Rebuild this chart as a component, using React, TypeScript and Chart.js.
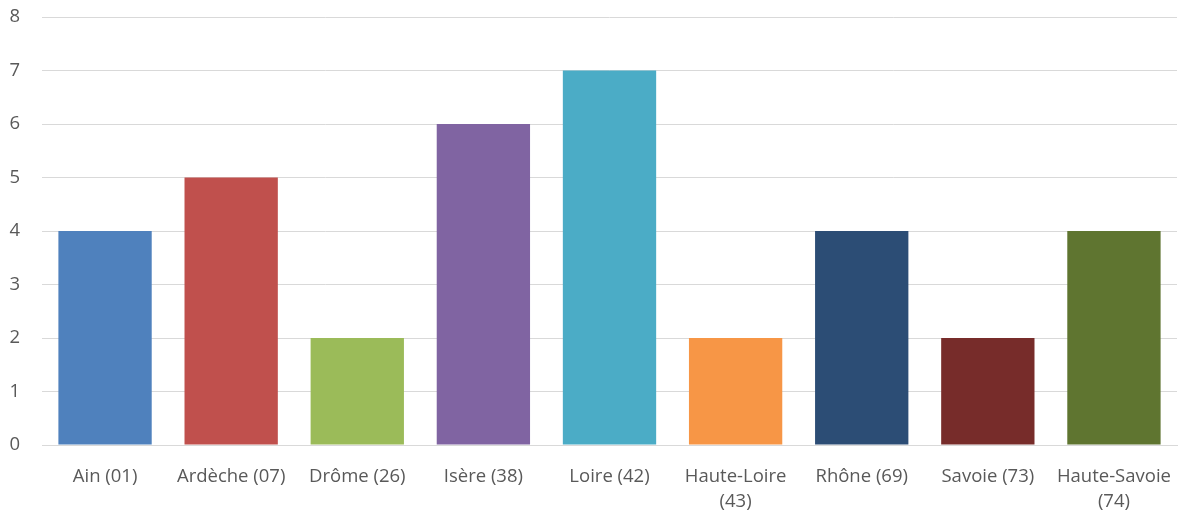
import React, { useEffect, useRef } from "react";
import { Chart, registerables } from "chart.js";

Chart.register(...registerables);

const categories: (string | string[])[] = [
  "Ain (01)",
  "Ardèche (07)",
  "Drôme (26)",
  "Isère (38)",
  "Loire (42)",
  ["Haute-Loire", "(43)"],
  "Rhône (69)",
  "Savoie (73)",
  ["Haute-Savoie", "(74)"],
];
const values = [4, 5, 2, 6, 7, 2, 4, 2, 4];
const barColors = [
  "#4F81BD",
  "#C0504D",
  "#9BBB59",
  "#8064A2",
  "#4BACC6",
  "#F79646",
  "#2C4D75",
  "#772C2A",
  "#5F7530",
];
const yMin = 0;
const yMax = 8;
const yStep = 1;

export default function App() {
  const ref = useRef<HTMLCanvasElement | null>(null);
  useEffect(() => {
    document.body.style.margin = "0";
    const ctx = ref.current!;
    const font = { family: "'Open Sans', sans-serif", size: 18.5 };
    const chart = new Chart(ctx, {
      type: "bar",
      data: {
        labels: categories,
        datasets: [
          {
            data: values,
            backgroundColor: barColors,
            borderWidth: 0,
            barPercentage: 0.74,
            categoryPercentage: 1,
          },
        ],
      },
      options: {
        animation: false,
        responsive: false,
        maintainAspectRatio: false,
        layout: { padding: { top: 17, right: 3, left: 0, bottom: 0 } },
        plugins: { legend: { display: false }, tooltip: { enabled: false } },
        scales: {
          x: {
            grid: {
              display: true,
              color: "rgba(0,0,0,0)",
              drawTicks: true,
              tickLength: 19,
              tickColor: "rgba(0,0,0,0)",
            },
            border: { display: true, color: "#D9D9D9", width: 1 },
            ticks: {
              color: "#595959",
              font: { ...font, lineHeight: 1.35 },
              maxRotation: 0,
              minRotation: 0,
              autoSkip: false,
              padding: 0,
            },
            afterFit: (s: any) => {
              s.height = 69;
            },
          },
          y: {
            min: yMin,
            max: yMax,
            grid: {
              color: "#D9D9D9",
              drawTicks: true,
              tickLength: 22,
              tickColor: "rgba(0,0,0,0)",
              lineWidth: 1,
            },
            border: { display: false },
            ticks: {
              stepSize: yStep,
              color: "#595959",
              font,
              padding: 0,
            },
            afterFit: (s: any) => {
              s.width = 42;
            },
          },
        },
      },
    });
    return () => chart.destroy();
  }, []);
  return (
    <div style={{ position: "relative", width: 1180, height: 514 }}>
      <canvas ref={ref} width={1180} height={514} style={{ display: "block" }} />
    </div>
  );
}
